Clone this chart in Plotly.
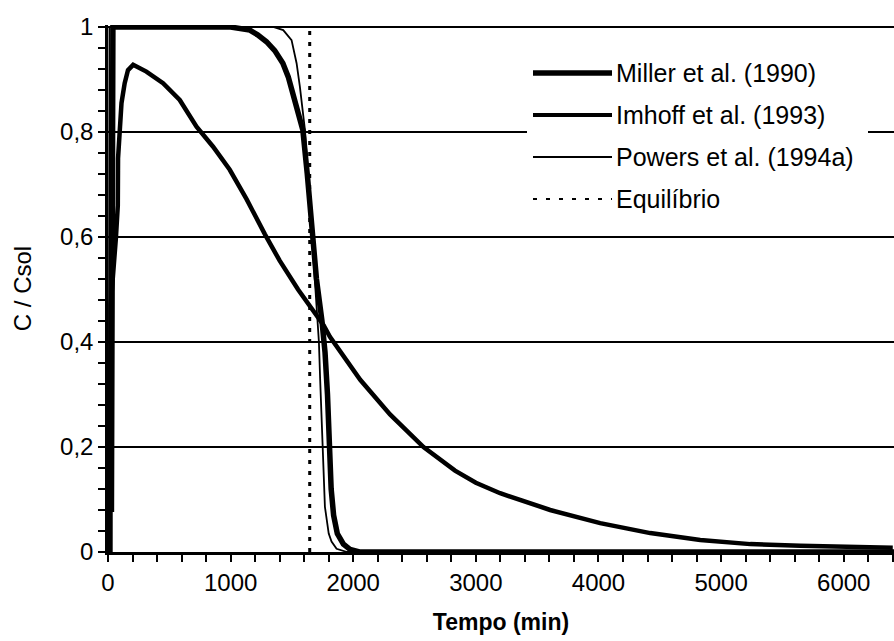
import plotly.graph_objects as go

# Breakthrough curves: relative concentration C/Csol versus time (min)
miller_t = [28, 40, 1000, 1060, 1157, 1220, 1293, 1360, 1426, 1470, 1508, 1550, 1589,
            1625, 1660, 1700, 1745, 1770, 1790, 1805, 1820, 1840, 1870, 1920, 1973,
            2050, 6410]
miller_c = [0.076, 1.0, 1.0, 0.998, 0.994, 0.985, 0.972, 0.955, 0.931, 0.905, 0.874,
            0.84, 0.804, 0.72, 0.62, 0.52, 0.44, 0.38, 0.3, 0.2, 0.12, 0.07, 0.035,
            0.015, 0.005, 0.0, 0.0]

imhoff_t = [20, 22, 65, 80, 82, 95, 110, 136, 163, 205, 313, 449, 585, 722, 857, 993,
            1130, 1280, 1400, 1550, 1650, 1758, 1810, 2057, 2300, 2573, 2830, 3000,
            3198, 3606, 4014, 4422, 4830, 5238, 5646, 6000, 6400]
imhoff_c = [0.0, 0.47, 0.6, 0.66, 0.75, 0.8, 0.855, 0.893, 0.918, 0.928, 0.915, 0.893,
            0.861, 0.81, 0.772, 0.728, 0.672, 0.605, 0.555, 0.5, 0.468, 0.432, 0.41,
            0.328, 0.262, 0.2, 0.155, 0.132, 0.112, 0.08, 0.055, 0.036, 0.023, 0.015,
            0.012, 0.01, 0.008]

powers_t = [5, 12, 1347, 1429, 1497, 1538, 1565, 1592, 1606, 1630, 1665, 1700, 1720,
            1730, 1753, 1769, 1800, 1823, 1864, 1950, 6410]
powers_c = [0.0, 1.0, 1.0, 0.994, 0.975, 0.931, 0.886, 0.836, 0.804, 0.72, 0.6, 0.48,
            0.4, 0.33, 0.2, 0.086, 0.035, 0.02, 0.006, 0.0, 0.0]

equil_t = [1645, 1645]
equil_c = [0.0, 1.0]

x_ticks = [0, 1000, 2000, 3000, 4000, 5000, 6000]
y_ticks = [0, 0.2, 0.4, 0.6, 0.8, 1.0]
y_labels = ["0", "0,2", "0,4", "0,6", "0,8", "1"]

legend_names = ["Miller et al. (1990)", "Imhoff et al. (1993)",
                "Powers et al. (1994a)", "Equilíbrio"]

FONT = "Liberation Sans, Arial, sans-serif"
W, H = 894, 641
ML, MR, MT, MB = 108, 0, 25, 89

fig = go.Figure()
fig.add_trace(go.Scatter(x=powers_t, y=powers_c, mode="lines",
                         line=dict(color="black", width=1.8)))
fig.add_trace(go.Scatter(x=imhoff_t, y=imhoff_c, mode="lines",
                         line=dict(color="black", width=4.5)))
fig.add_trace(go.Scatter(x=miller_t, y=miller_c, mode="lines",
                         line=dict(color="black", width=5.5)))
fig.add_trace(go.Scatter(x=equil_t, y=equil_c, mode="lines",
                         line=dict(color="black", width=3, dash="4px,7px")))


def px_x(p):
    return (p - ML) / (W - ML - MR)


def px_y(p):
    return (H - MB - p) / (H - MT - MB)


# Legend drawn by hand so the line samples keep their long length
shapes = [dict(type="rect", xref="paper", yref="paper", layer="above",
               x0=px_x(527), x1=px_x(868), y0=px_y(226), y1=px_y(45),
               fillcolor="white", line=dict(width=0))]
rows = [73, 115, 157, 199]
styles = [dict(width=5.5), dict(width=4.2), dict(width=1.8), dict(width=2.2, dash="4px,9px")]
annotations = []
for name, row, st in zip(legend_names, rows, styles):
    shapes.append(dict(type="line", xref="paper", yref="paper", layer="above",
                       x0=px_x(533), x1=px_x(612), y0=px_y(row), y1=px_y(row),
                       line=dict(color="black", **st)))
    annotations.append(dict(xref="paper", yref="paper", x=px_x(614), y=px_y(row),
                            xanchor="left", yanchor="middle", showarrow=False,
                            text=name, font=dict(family=FONT, size=25, color="black")))

fig.update_layout(
    width=W, height=H, autosize=False,
    margin=dict(l=ML, r=MR, t=MT, b=MB, pad=0),
    paper_bgcolor="white", plot_bgcolor="white",
    showlegend=False,
    shapes=shapes, annotations=annotations,
    font=dict(family=FONT, size=24, color="black"),
)
fig.update_xaxes(
    range=[0, 6410], tickmode="array", tickvals=x_ticks,
    ticktext=[str(v) for v in x_ticks],
    ticks="outside", ticklen=7, tickwidth=2, tickcolor="black",
    showline=True, linecolor="black", linewidth=2.5,
    showgrid=False, zeroline=False,
    minor=dict(tickmode="linear", tick0=0, dtick=200, ticks="outside",
               ticklen=7, tickwidth=2, tickcolor="black", showgrid=False),
    tickfont=dict(family=FONT, size=24),
    title=dict(text="<b>Tempo (min)</b>", font=dict(family=FONT, size=23), standoff=20),
)
fig.update_yaxes(
    range=[0, 1.0038], tickmode="array", tickvals=y_ticks, ticktext=y_labels,
    ticks="outside", ticklen=7, tickwidth=2, tickcolor="black",
    showline=True, linecolor="black", linewidth=2.5,
    showgrid=True, gridcolor="black", gridwidth=2, zeroline=False,
    minor=dict(tickmode="linear", tick0=0, dtick=0.04, ticks="outside",
               ticklen=7, tickwidth=2, tickcolor="black", showgrid=False),
    tickfont=dict(family=FONT, size=24),
    title=dict(text="C / Csol", font=dict(family=FONT, size=24), standoff=22),
)

fig.write_html("out.html")
